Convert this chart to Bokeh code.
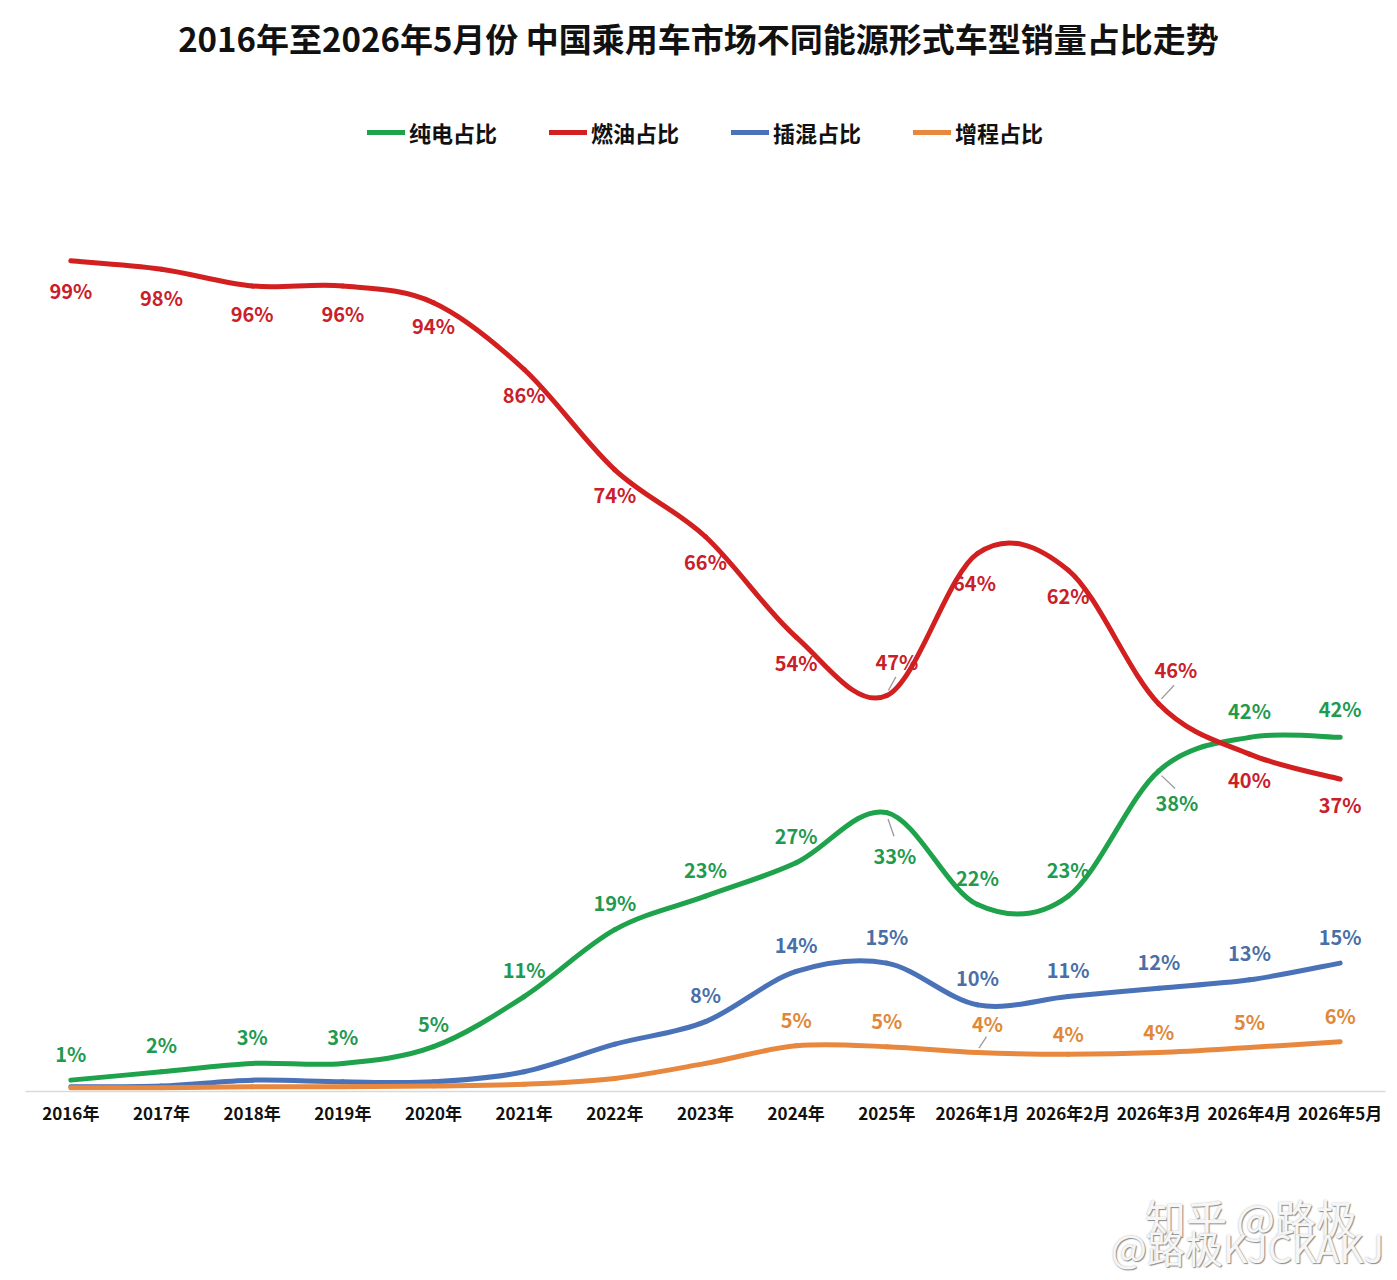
import numpy as np
from bokeh.plotting import figure
from bokeh.layouts import column
from bokeh.models import ColumnDataSource, Range1d, FixedTicker, Legend, LegendItem, Div, Label
from bokeh.core.properties import value
from bokeh.embed import file_html
from bokeh.resources import INLINE

FONT = "Noto Sans CJK SC"
TITLE = "2016年至2026年5月份 中国乘用车市场不同能源形式车型销量占比走势"

# 时间轴
periods = ["2016年", "2017年", "2018年", "2019年", "2020年", "2021年", "2022年", "2023年",
           "2024年", "2025年", "2026年1月", "2026年2月", "2026年3月", "2026年4月", "2026年5月"]

# 各能源形式销量占比 (%)
bev = [1, 2, 3, 3, 5, 11, 19, 23, 27, 33, 22, 23, 38, 42, 42]          # 纯电
ice = [99, 98, 96, 96, 94, 86, 74, 66, 54, 47, 64, 62, 46, 40, 37]     # 燃油
phev = [0.2, 0.3, 1, 0.8, 0.8, 2, 5.3, 8, 14, 15, 10, 11, 12, 13, 15]   # 插混
erev = [0.1, 0.1, 0.2, 0.2, 0.3, 0.5, 1.2, 3, 5.1, 5, 4.3, 4.1, 4.3, 4.9, 5.6]  # 增程

# 数据标签位置 (像素偏移, 下为正)
series = [
    # name, values, line color, text color, first labelled point, default dy, overrides, leaders
    ("纯电占比", bev, "#1fa24c", "#1f9a4f", 0, -27,
     {4: (0, -23), 9: (8, 43), 12: (18, 32), 14: (0, -29)}, [9, 12]),
    ("燃油占比", ice, "#d21f1f", "#c9202a", 0, 25,
     {0: (0, 30), 1: (0, 28), 2: (0, 28), 3: (0, 28), 4: (0, 23), 9: (10, -34),
      10: (-3, 29), 12: (17, -34)}, [9, 12]),
    ("插混占比", phev, "#4a72b8", "#4a6fa8", 7, -27, {}, []),
    ("增程占比", erev, "#e8883e", "#e0883a", 8, -26,
     {10: (10, -29), 11: (0, -21), 12: (0, -21)}, [10]),
]

PX_X = 1360 / 15.0   # 每个分类的像素宽度
PX_Y = 8.36          # 每 1% 的像素高度
FRAME_H = 1091

p = figure(width=1389, height=1190, output_backend="svg", toolbar_location=None,
           x_range=Range1d(-0.5, 14.5), y_range=Range1d(-0.36, -0.36 + FRAME_H / PX_Y),
           min_border_left=25, min_border_right=4, min_border_top=0,
           min_border_bottom=1190 - FRAME_H)

p.outline_line_color = None
p.grid.visible = False
p.yaxis.visible = False

p.xaxis.ticker = FixedTicker(ticks=list(range(len(periods))))
p.xaxis.major_label_overrides = {i: t for i, t in enumerate(periods)}
p.xaxis.major_label_text_font = FONT
p.xaxis.major_label_text_font_size = "17px"
p.xaxis.major_label_text_font_style = "bold"
p.xaxis.major_label_text_color = "#111111"
p.xaxis.major_label_standoff = 2
p.xaxis.axis_line_color = "#d9d9d9"
p.xaxis.axis_line_width = 1.5
p.xaxis.major_tick_line_color = None
p.xaxis.minor_tick_line_color = None

# 标题
p.add_layout(Label(x=673, y=FRAME_H - 37, x_units="screen", y_units="screen", text=TITLE,
                   text_font=FONT, text_font_size="33px", text_font_style="bold",
                   text_color="#111111", text_align="center", text_baseline="middle"))

items = []
for name, vals, lc, tc, first, dy0, over, leaders in series:
    x = np.arange(len(vals), dtype=float)
    y = np.asarray(vals, dtype=float)
    # 平滑曲线: 由相邻点求贝塞尔控制点
    xp = np.concatenate([[x[0]], x, [x[-1]]])
    yp = np.concatenate([[y[0]], y, [y[-1]]])
    src = ColumnDataSource(dict(
        x0=x[:-1], y0=y[:-1], x1=x[1:], y1=y[1:],
        cx0=x[:-1] + (xp[2:-1] - xp[:-3]) / 6, cy0=y[:-1] + (yp[2:-1] - yp[:-3]) / 6,
        cx1=x[1:] - (xp[3:] - xp[1:-2]) / 6, cy1=y[1:] - (yp[3:] - yp[1:-2]) / 6,
    ))
    r = p.bezier(x0="x0", y0="y0", x1="x1", y1="y1", cx0="cx0", cy0="cy0", cx1="cx1", cy1="cy1",
                 source=src, line_color=lc, line_width=5, line_cap="round")
    items.append(LegendItem(label=name, renderers=[r]))

    idx = list(range(first, len(vals)))
    dx = [over.get(i, (0, dy0))[0] for i in idx]
    dy = [over.get(i, (0, dy0))[1] for i in idx]
    lab = ColumnDataSource(dict(x=x[idx], y=y[idx], dx=dx, dy=dy,
                                text=["%d%%" % round(vals[i]) for i in idx]))
    p.text(x="x", y="y", text="text", x_offset="dx", y_offset="dy", source=lab,
           text_color=tc, text_font=value(FONT), text_font_style="bold", text_font_size="20px",
           text_align="center", text_baseline="middle")

    if leaders:
        lx0 = [x[i] + 0.15 * over[i][0] / PX_X for i in leaders]
        ly0 = [y[i] - 0.15 * over[i][1] / PX_Y for i in leaders]
        lx1 = [x[i] + 0.9 * over[i][0] / PX_X for i in leaders]
        ly1 = [y[i] - 0.55 * over[i][1] / PX_Y for i in leaders]
        p.segment(x0=lx0, y0=ly0, x1=lx1, y1=ly1, line_color="#9a9a9a", line_width=1.3)

legend = Legend(items=items, orientation="horizontal", location="top_center",
                label_text_font=FONT, label_text_font_size="22px", label_text_font_style="bold",
                label_text_color="#111111", glyph_width=38, glyph_height=22, label_standoff=4,
                spacing=52, padding=0, margin=116, border_line_color=None,
                background_fill_alpha=0)
p.add_layout(legend, "center")

# 水印
shadow = "text-shadow:1px 1px 1px #8a8a8a, 0 0 2px #bbbbbb;color:#f6f6f6;"
wm = Div(width=1389, height=82, text=(
    "<div style=\"position:relative;width:1389px;height:82px;font-family:'Noto Sans CJK SC';\">"
    "<span style=\"position:absolute;left:1140px;top:0px;font-size:41px;line-height:44px;white-space:nowrap;%s\">知乎 @路极</span>"
    "<span style=\"position:absolute;left:1106px;top:32px;font-size:38px;line-height:40px;white-space:nowrap;%s\">@路极KJCKAKJ</span>"
    "</div>" % (shadow, shadow)))

open("out.html", "w").write(file_html(column(p, wm), INLINE))
